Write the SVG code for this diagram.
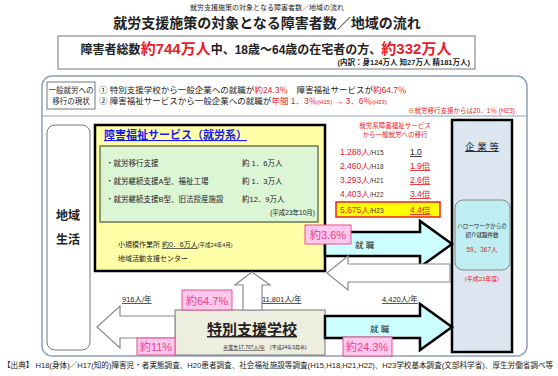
<svg xmlns="http://www.w3.org/2000/svg" width="558" height="376" viewBox="0 0 558 376">
<style>
text{font-family:"Liberation Sans","Noto Sans CJK JP",sans-serif;fill:#222}
.red{fill:#e8202a}
.pk{fill:#e8408a;font-size:11px;text-anchor:middle}
.pkbox{fill:#ffc8ee;stroke:#e8508e;stroke-width:1}
.cy{fill:#ccffff;stroke:#000;stroke-width:2.5}
.wa{fill:#fff;stroke:#8a8a8a;stroke-width:1.2}
.u{text-decoration:underline}
.row{font-size:8.5px}
.sm{font-size:6.5px;fill:#333}
</style>
<rect width="558" height="376" fill="#fff"/>
<g id="title">
<text x="267" y="10" font-size="7" text-anchor="middle" fill="#444">就労支援施策の対象となる障害者数／地域の流れ</text>
<text x="267" y="28" font-size="14" font-weight="bold" text-anchor="middle">就労支援施策の対象となる障害者数／地域の流れ</text>
</g>
<g id="total">
<rect x="58" y="36" width="417" height="33" fill="#fff" stroke="#777" stroke-width="1"/>
<text x="266" y="54" font-size="12" font-weight="bold" text-anchor="middle">障害者総数<tspan class="red" font-size="15">約744万人</tspan>中、18歳～64歳の在宅者の方、<tspan class="red" font-size="15">約332万人</tspan></text>
<text x="470" y="65" font-size="7.5" text-anchor="end" font-weight="bold">(内訳：身124万人 知27万人 精181万人)</text>
</g>
<g id="frame">
<rect x="42" y="76" width="485" height="280" rx="10" fill="#fff" stroke="#8fa0b8" stroke-width="1.5"/>
<line x1="42" y1="116" x2="527" y2="116" stroke="#8fa0b8" stroke-width="1"/>
</g>
<g id="status">
<rect x="47" y="82" width="48" height="27" fill="#fff" stroke="#777" stroke-width="1"/>
<text x="71" y="93" font-size="7.5" text-anchor="middle">一般就労への</text>
<text x="71" y="104" font-size="7.5" text-anchor="middle">移行の現状</text>
<text x="99" y="93" font-size="8.5">① 特別支援学校から一般企業への就職が<tspan class="red">約24.3％</tspan>　障害福祉サービスが<tspan class="red">約64.7％</tspan></text>
<text x="99" y="104" font-size="8.5">② 障害福祉サービスから一般企業への就職が<tspan class="red">年間 1．3％<tspan font-size="6">(H15)</tspan> → 3．6％<tspan font-size="6">(H23)</tspan></tspan></text>
<text x="515" y="113" font-size="6.5" class="red" text-anchor="end">※就労移行支援からは20．1％ (H23)</text>
</g>
<g id="chiiki">
<rect x="47" y="125" width="43" height="225" rx="8" fill="#fff" stroke="#777" stroke-width="1"/>
<text x="68" y="220" font-size="12" font-weight="bold" text-anchor="middle">地域</text>
<text x="68" y="244" font-size="12" font-weight="bold" text-anchor="middle">生活</text>
</g>
<g id="welfare">
<rect x="95" y="125" width="230" height="146" fill="#ffffa8" stroke="#000" stroke-width="2.5"/>
<text x="104" y="139" font-size="11" font-weight="bold" class="u" style="fill:#1a1aee">障害福祉サービス（就労系）</text>
<rect x="100" y="146" width="218" height="76" fill="#dcf5d4" stroke="#6b7a50" stroke-width="1.5"/>
<text x="106" y="166" font-size="7.5">・就労移行支援</text>
<text x="242" y="166" font-size="7.5">約 1．6万人</text>
<text x="106" y="184" font-size="7.5">・就労継続支援A型、福祉工場</text>
<text x="242" y="184" font-size="7.5">約 1．3万人</text>
<text x="106" y="202" font-size="7.5">・就労継続支援B型、旧法授産施設</text>
<text x="242" y="202" font-size="7.5">約12．9万人</text>
<text x="315" y="215" font-size="6.5" text-anchor="end">(平成23年10月)</text>
<text x="118" y="247" font-size="7">小規模作業所 <tspan class="u">約0．6万人</tspan><tspan font-size="5.5">(平成24年4月)</tspan></text>
<text x="118" y="261" font-size="7">地域活動支援センター</text>
</g>
<g id="transition">
<text x="395" y="128" font-size="6.5" class="red" text-anchor="middle">就労系障害福祉サービス</text>
<text x="395" y="137" font-size="6.5" class="red" text-anchor="middle">から一般就労への移行</text>
<text x="340" y="155" class="row red">1,288人<tspan class="sm">/H15</tspan></text>
<text x="410" y="155" class="row u">1.0</text>
<text x="340" y="169" class="row red">2,460人<tspan class="sm">/H18</tspan></text>
<text x="410" y="169" class="row red u">1.9倍</text>
<text x="340" y="183" class="row red">3,293人<tspan class="sm">/H21</tspan></text>
<text x="410" y="183" class="row red u">2.6倍</text>
<text x="340" y="197" class="row red">4,403人<tspan class="sm">/H22</tspan></text>
<text x="410" y="197" class="row red u">3.4倍</text>
<rect x="336" y="202" width="104" height="15" fill="#ffff00" stroke="#e8202a" stroke-width="1.5"/>
<text x="340" y="213" class="row red">5,675人<tspan class="sm">/H23</tspan></text>
<text x="410" y="213" class="row red u">4.4倍</text>
</g>
<g id="kigyo">
<rect x="452" y="120" width="60" height="232" fill="#dce6f0" stroke="#000" stroke-width="2.5"/>
<text x="482" y="150" font-size="9.5" text-anchor="middle" class="u">企 業 等</text>
<rect x="455" y="200" width="55" height="70" rx="8" fill="#bfeef2" stroke="#888" stroke-width="1"/>
<text x="482" y="228" font-size="5.5" text-anchor="middle">ハローワークからの</text>
<text x="482" y="237" font-size="5.5" text-anchor="middle">紹介就職件数</text>
<text x="482" y="252" font-size="6.5" class="red" text-anchor="middle">59，367人</text>
<text x="482" y="281" font-size="6" class="red" text-anchor="middle">(平成23年度)</text>
</g>
<g id="school">
<rect x="175" y="310" width="150" height="45" fill="#eeeee0" stroke="#777" stroke-width="1"/>
<text x="252" y="335" font-size="15" font-weight="bold" text-anchor="middle" class="u">特別支援学校</text>
<text x="265" y="349" font-size="5" text-anchor="middle"><tspan class="u">卒業生17,707人/年</tspan>　(平成24年3月卒)</text>
</g>
<g id="connectors">
<polygon class="cy" points="325,232 420,232 420,221 452,244 420,267 420,256 325,256"/>
<polygon class="wa" points="450,264 348,264 348,256 327,273 348,290 348,282 450,282"/>
<polygon class="wa" points="175,316 120,316 120,306 97,327 120,348 120,338 175,338"/>
<polygon class="wa" points="243,310 243,285 235,285 252,272 270,285 262,285 262,310"/>
<polygon class="cy" points="325,316 420,316 420,304 452,327 420,350 420,338 325,338"/>
</g>
<g id="labels">
<rect class="pkbox" x="305" y="225" width="46" height="19"/>
<text class="pk" x="328" y="239">約3.6%</text>
<text x="355" y="248" font-size="8.5">就 職</text>
<text x="370" y="332" font-size="8.5">就 職</text>
<rect class="pkbox" x="182" y="290" width="50" height="20"/>
<text class="pk" x="207" y="305">約64.7%</text>
<rect class="pkbox" x="137" y="338" width="38" height="17"/>
<text class="pk" x="156" y="351">約11%</text>
<rect class="pkbox" x="343" y="337" width="49" height="19"/>
<text class="pk" x="367" y="351">約24.3%</text>
<text x="122" y="302" font-size="7.5" class="u">916人/年</text>
<text x="262" y="302" font-size="7.5" class="u">11,801人/年</text>
<text x="382" y="302" font-size="7.5" class="u">4,420人/年</text>
</g>
<g id="source">
<text x="3" y="368" font-size="7.6">【出典】 H18(身体)／H17(知的)障害児・者実態調査、H20患者調査、社会福祉施設等調査(H15,H18,H21,H22)、H23学校基本調査(文部科学省)、厚生労働省調べ等</text>
</g>
</svg>
